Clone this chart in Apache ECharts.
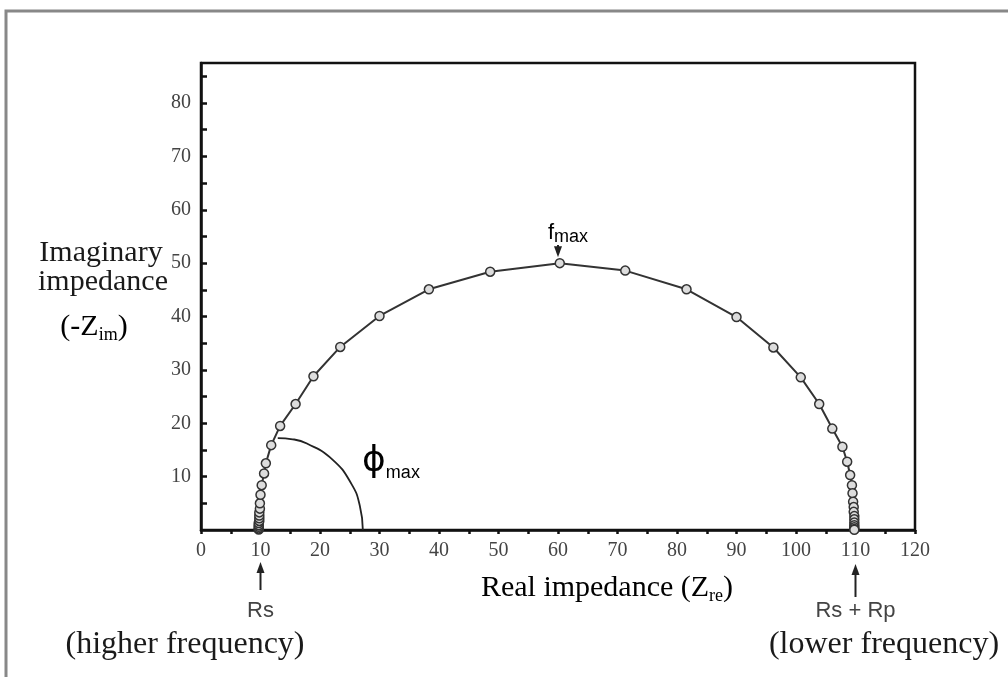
<!DOCTYPE html>
<html>
<head>
<meta charset="utf-8">
<script src="https://cdn.jsdelivr.net/npm/echarts@6/dist/echarts.min.js"></script>
<style>
  html, body { margin: 0; padding: 0; background: #fff; }
  #main { width: 1008px; height: 677px; }
</style>
</head>
<body>
<div id="main"></div>
<script>
// Nyquist plot values (real, -imaginary), high freq -> low freq
var zRe = [9.7, 9.7, 9.7, 9.7, 9.7, 9.8, 9.8, 9.8, 9.8, 9.9, 9.9, 10.0, 10.2, 10.6, 10.9, 11.8, 13.3, 15.9, 18.9, 23.4, 30.0, 38.3, 48.6,
           60.3, 71.3, 81.6, 90.0, 96.2, 100.8, 103.9, 106.1, 107.8, 108.6, 109.1, 109.4, 109.5, 109.6, 109.7, 109.7,
           109.8, 109.8, 109.8, 109.8, 109.8, 109.8, 109.8];
var zIm = [0.1, 0.3, 0.6, 0.9, 1.3, 1.7, 2.2, 2.7, 3.3, 4.0, 5.0, 6.6, 8.4, 10.6, 12.5, 15.9, 19.5, 23.6, 28.8, 34.3, 40.1, 45.1, 48.4,
           50.0, 48.6, 45.1, 39.9, 34.2, 28.6, 23.6, 19.0, 15.6, 12.8, 10.3, 8.4, 6.9, 5.3, 4.3, 3.4,
           2.6, 2.0, 1.4, 0.9, 0.5, 0.2, 0.05];
// phase angle arc (phi max)
var phiRe = [12.9, 15.4, 17.8, 22.1, 25.3, 26.7, 27.2];
var phiIm = [17.2, 17.0, 16.2, 13.2, 8.6, 4.5, 0];
// tick labels / tick marks
var yLabels = [10, 20, 30, 40, 50, 60, 70, 80];
var yTickMarks = [5, 10, 15, 20, 25, 30, 35, 40, 45, 50, 55, 60, 65, 70, 75, 80, 85];
var xTickMarks = [0, 5, 10, 15, 20, 25, 30, 35, 40, 45, 50, 55, 60, 65, 70, 75, 80, 85, 90, 95, 100, 105, 110, 115, 120];

var myChart = echarts.init(document.getElementById('main'));
var serif = '"Liberation Serif", "Times New Roman", serif';
var sans = '"Liberation Sans", Arial, sans-serif';

function pairs(xs, ys) {
  var out = [];
  for (var i = 0; i < xs.length; i++) out.push([xs[i], ys[i]]);
  return out;
}

// up-pointing arrow, tip at (x, yTip)
function arrow(x, yTip, yEnd) {
  return {
    type: 'group',
    children: [
      { type: 'line', shape: { x1: x, y1: yTip + 6, x2: x, y2: yEnd }, style: { stroke: '#222', lineWidth: 2 } },
      { type: 'polygon', shape: { points: [[x, yTip], [x - 4, yTip + 11], [x + 4, yTip + 11]] }, style: { fill: '#222' } }
    ]
  };
}
function arrowDown(x, yStart, yTip) {
  return {
    type: 'group',
    children: [
      { type: 'line', shape: { x1: x, y1: yStart, x2: x, y2: yTip - 6 }, style: { stroke: '#222', lineWidth: 2 } },
      { type: 'polygon', shape: { points: [[x, yTip], [x - 4, yTip - 11], [x + 4, yTip - 11]] }, style: { fill: '#222' } }
    ]
  };
}

var option = {
  animation: false,
  grid: {
    left: 201, right: 93, top: 63, bottom: 147,
    show: true, borderColor: '#111', borderWidth: 2.5
  },
  xAxis: {
    type: 'value', min: 0, max: 120, interval: 10,
    axisLine: { onZero: false, lineStyle: { color: '#111', width: 2.5 } },
    axisTick: { show: true, customValues: xTickMarks, length: 4, lineStyle: { color: '#111', width: 2.5 } },
    axisLabel: { color: '#444', fontFamily: serif, fontSize: 20, margin: 11 },
    splitLine: { show: false }
  },
  yAxis: {
    type: 'value', min: 0, max: 87.5,
    axisLine: { show: true, onZero: false, lineStyle: { color: '#111', width: 2.5 } },
    axisTick: { show: true, inside: true, customValues: yTickMarks, length: 6, lineStyle: { color: '#111', width: 2.5 } },
    axisLabel: { customValues: yLabels, color: '#444', fontFamily: serif, fontSize: 20, margin: 10 },
    splitLine: { show: false }
  },
  series: [
    {
      name: 'impedance',
      type: 'line',
      data: pairs(zRe, zIm),
      symbol: 'circle',
      symbolSize: 9,
      lineStyle: { color: '#333', width: 2 },
      itemStyle: { color: '#ddd', borderColor: '#333', borderWidth: 1.5 }
    },
    {
      name: 'phi',
      type: 'line',
      data: pairs(phiRe, phiIm),
      smooth: 0.5,
      showSymbol: false,
      lineStyle: { color: '#222', width: 1.8 }
    }
  ]
};
myChart.setOption(option);

// annotations, placed after the axes exist
var pRs = myChart.convertToPixel({ gridIndex: 0 }, [10, 0]);
var pRp = myChart.convertToPixel({ gridIndex: 0 }, [110, 0]);
var pTop = myChart.convertToPixel({ gridIndex: 0 }, [60, 50]);

var titleRich = {
  a: { fontFamily: serif, fontSize: 30, color: '#1a1a1a', lineHeight: 34 },
  b: { fontFamily: serif, fontSize: 18, color: '#1a1a1a', lineHeight: 18, verticalAlign: 'bottom' }
};
var sansRich = {
  a: { fontFamily: sans, fontSize: 22, color: '#333', lineHeight: 26 },
  b: { fontFamily: sans, fontSize: 18, color: '#333', lineHeight: 18, verticalAlign: 'bottom' },
  phi: { fontFamily: '"DejaVu Sans", sans-serif', fontSize: 36, color: '#333', lineHeight: 40 }
};

myChart.setOption({
  graphic: [
    { type: 'rect', shape: { x: 6, y: 11, width: 1100, height: 800 }, style: { fill: 'none', stroke: '#888', lineWidth: 3 }, silent: true },
    { type: 'text', x: 101, y: 253, style: { text: 'Imaginary', font: '30px ' + serif, fill: '#1a1a1a', align: 'center', verticalAlign: 'middle' } },
    { type: 'text', x: 103, y: 282, style: { text: 'impedance', font: '30px ' + serif, fill: '#1a1a1a', align: 'center', verticalAlign: 'middle' } },
    { type: 'text', x: 94, y: 327, style: { text: '{a|(-Z}{b|im}{a|)}', rich: titleRich, align: 'center', verticalAlign: 'middle' } },
    { type: 'text', x: 607, y: 588, style: { text: '{a|Real impedance (Z}{b|re}{a|)}', rich: titleRich, align: 'center', verticalAlign: 'middle' } },
    arrow(pRs[0], 562, 590),
    { type: 'text', x: pRs[0], y: 611, style: { text: 'Rs', font: '22px ' + sans, fill: '#444', align: 'center', verticalAlign: 'middle' } },
    { type: 'text', x: 185, y: 645, style: { text: '(higher frequency)', font: '32px ' + serif, fill: '#1a1a1a', align: 'center', verticalAlign: 'middle' } },
    arrow(pRp[0], 564, 597),
    { type: 'text', x: pRp[0], y: 611, style: { text: 'Rs + Rp', font: '22px ' + sans, fill: '#444', align: 'center', verticalAlign: 'middle' } },
    { type: 'text', x: 884, y: 645, style: { text: '(lower frequency)', font: '32px ' + serif, fill: '#1a1a1a', align: 'center', verticalAlign: 'middle' } },
    arrowDown(pTop[0], 245, pTop[1] - 6),
    { type: 'text', x: pTop[0] + 10, y: 233, style: { text: '{a|f}{b|max}', rich: sansRich, align: 'center', verticalAlign: 'middle' } },
    { type: 'text', x: 391, y: 462, style: { text: '{phi|ϕ}{b|max}', rich: sansRich, align: 'center', verticalAlign: 'middle' } }
  ]
});
</script>
</body>
</html>
